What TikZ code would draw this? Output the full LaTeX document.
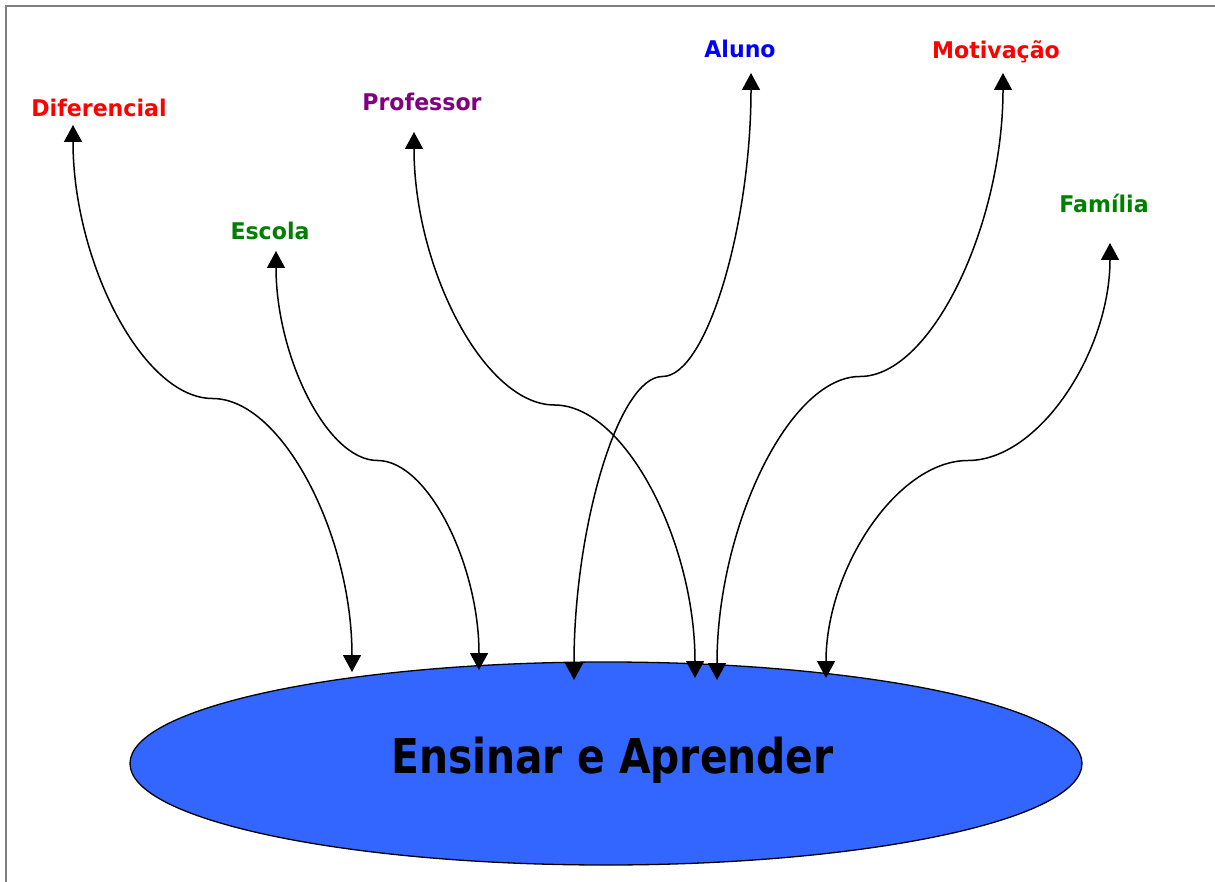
\documentclass[tikz,border=0pt]{standalone}
\usepackage{fontspec}
\setmainfont{DejaVu Sans}
\usetikzlibrary{arrows.meta,calc}

\definecolor{lblred}{HTML}{FF0000}
\definecolor{lblpurple}{HTML}{800080}
\definecolor{lblblue}{HTML}{0000FF}
\definecolor{lblgreen}{HTML}{008000}
\definecolor{discblue}{HTML}{3366FF}
\definecolor{framegray}{HTML}{808080}

\tikzset{
  lbl/.style={anchor=base, inner sep=0pt, font=\fontsize{23}{27}\selectfont\bfseries},
  conn/.style={line width=1.5pt, {Triangle[length=17pt,width=18pt]}-{Triangle[length=17pt,width=18pt]}},
  disc/.style={draw=black, line width=1.3pt, fill=discblue}
}

% S-shaped connector: vertical at both ends, horizontal half-way
\newcommand\sconn[2]{%
  \draw[conn] let \p1=(#1), \p2=(#2) in
    (\p1) .. controls (\x1,{(3*\y1+\y2)/4}) and ({(3*\x1+\x2)/4},{(\y1+\y2)/2})
    .. ({(\x1+\x2)/2},{(\y1+\y2)/2})
    .. controls ({(\x1+3*\x2)/4},{(\y1+\y2)/2}) and (\x2,{(\y1+3*\y2)/4}) .. (\p2);}

\newcommand\lbltext[1]{\scalebox{0.96}[1]{#1}}

\begin{document}
\begin{tikzpicture}[x=1pt,y=-1pt]
  \useasboundingbox (0,0) rectangle (1215,882);
  % frame
  \draw[framegray, line width=2pt] (6,882) -- (6,6) -- (1215,6);

  % central disc
  \draw[disc] (606,763.5) ellipse [x radius=476, y radius=101.5];
  \node[anchor=base, inner sep=0pt] (core) at (612.5,773)
    {\scalebox{0.85}[1]{\fontsize{48}{56}\selectfont\bfseries Ensinar e Aprender}};

  % labels
  \node[lbl, text=lblred]    (dif) at (99,116.5)  {\lbltext{Diferencial}};
  \node[lbl, text=lblgreen]  (esc) at (270,240)   {\lbltext{Escola}};
  \node[lbl, text=lblpurple] (pro) at (422,111)   {\lbltext{Professor}};
  \node[lbl, text=lblblue]   (alu) at (740,58)    {\lbltext{Aluno}};
  \node[lbl, text=lblred]    (mot) at (996,59)    {\lbltext{Motivação}};
  \node[lbl, text=lblgreen]  (fam) at (1104,213)  {\lbltext{Família}};

  % connector ends under the labels
  \coordinate (difT) at (73,125);
  \coordinate (escT) at (276,251);
  \coordinate (proT) at (414,132);
  \coordinate (aluT) at (751,73);
  \coordinate (motT) at (1003,73);
  \coordinate (famT) at (1110,243);

  % connector ends on the disc
  \coordinate (difB) at (352,672);
  \coordinate (escB) at (479,670);
  \coordinate (proB) at (695,678);
  \coordinate (aluB) at (574,680);
  \coordinate (motB) at (717,680);
  \coordinate (famB) at (826,678);

  \sconn{difT}{difB}
  \sconn{escT}{escB}
  \sconn{proT}{proB}
  \sconn{aluT}{aluB}
  \sconn{motT}{motB}
  \sconn{famT}{famB}
\end{tikzpicture}
\end{document}
